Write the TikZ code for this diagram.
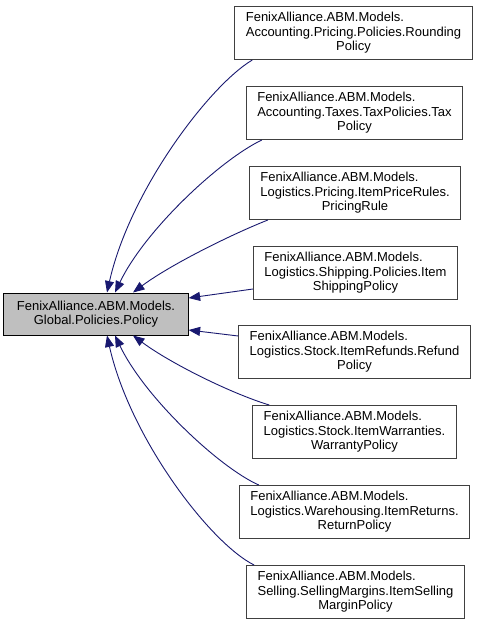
\documentclass[tikz,border=0pt]{standalone}
\usepackage{fontspec}
\setmainfont{Liberation Sans}
\usepackage{calc}
\usetikzlibrary{arrows.meta}

\definecolor{edgeblue}{HTML}{191970}
\definecolor{basegray}{HTML}{BFBFBF}

% first line flush left with the second, last line centred
\newcommand{\clslabel}[3]{\makebox[\widthof{#2}][l]{#1}\\#2\\#3}

\begin{document}
\begin{tikzpicture}[x=1pt,y=-1pt,
    cls/.style={draw=black!75, line width=1pt, fill=white, align=center,
      font=\fontsize{13}{14.5}\selectfont, inner xsep=11pt, minimum height=53pt},
    base/.style={cls, draw=black, fill=basegray, inner xsep=13pt, minimum height=42pt},
    inherit/.style={draw=edgeblue, line width=0.9pt, -{Triangle[length=11.5pt,width=9pt]}}]

	% Page
	\fill[white] (0,0) rectangle (480,627);
	\useasboundingbox (0,0) rectangle (480,627);

	% Base class
	\node[base] (policy) at (96,314) {FenixAlliance.ABM.Models.\\Global.Policies.Policy};

	% Derived classes
	\node[cls] (rounding) at (353.5,33) {\clslabel{FenixAlliance.ABM.Models.}{Accounting.Pricing.Policies.Rounding}{Policy}};
	\node[cls] (tax) at (354.5,113) {\clslabel{FenixAlliance.ABM.Models.}{Accounting.Taxes.TaxPolicies.Tax}{Policy}};
	\node[cls] (pricing) at (355,193) {\clslabel{FenixAlliance.ABM.Models.}{Logistics.Pricing.ItemPriceRules.}{PricingRule}};
	\node[cls] (shipping) at (355.5,273) {\clslabel{FenixAlliance.ABM.Models.}{Logistics.Shipping.Policies.Item}{ShippingPolicy}};
	\node[cls] (refund) at (354.5,352) {\clslabel{FenixAlliance.ABM.Models.}{Logistics.Stock.ItemRefunds.Refund}{Policy}};
	\node[cls] (warranty) at (354.5,432) {\clslabel{FenixAlliance.ABM.Models.}{Logistics.Stock.ItemWarranties.}{WarrantyPolicy}};
	\node[cls] (return) at (354.5,512) {\clslabel{FenixAlliance.ABM.Models.}{Logistics.Warehousing.ItemReturns.}{ReturnPolicy}};
	\node[cls] (margin) at (355.5,592) {\clslabel{FenixAlliance.ABM.Models.}{Selling.SellingMargins.ItemSelling}{MarginPolicy}};

	% Inheritance arrows, upper half
	\draw[inherit] ([xshift=18pt]rounding.south west) .. controls (210,85) and (130,190) .. ([xshift=11pt]policy.north);
	\draw[inherit] ([xshift=16pt]tax.south west) .. controls (220,160) and (145,230) .. ([xshift=19pt]policy.north);
	\draw[inherit] ([xshift=19pt]pricing.south west) .. controls (230,235) and (170,265) .. ([xshift=37pt]policy.north);
	\draw[inherit] ([yshift=-16pt]shipping.west) -- ([yshift=16pt]policy.east);

	% Inheritance arrows, lower half
	\draw[inherit] ([yshift=16pt]refund.west) -- ([yshift=-16pt]policy.east);
	\draw[inherit] ([xshift=17pt]warranty.north west) .. controls (230,393) and (170,363) .. ([xshift=37pt]policy.south);
	\draw[inherit] ([xshift=20pt]return.north west) .. controls (220,468) and (145,398) .. ([xshift=19pt]policy.south);
	\draw[inherit] ([xshift=8pt]margin.north west) .. controls (210,543) and (130,438) .. ([xshift=11pt]policy.south);
\end{tikzpicture}
\end{document}
